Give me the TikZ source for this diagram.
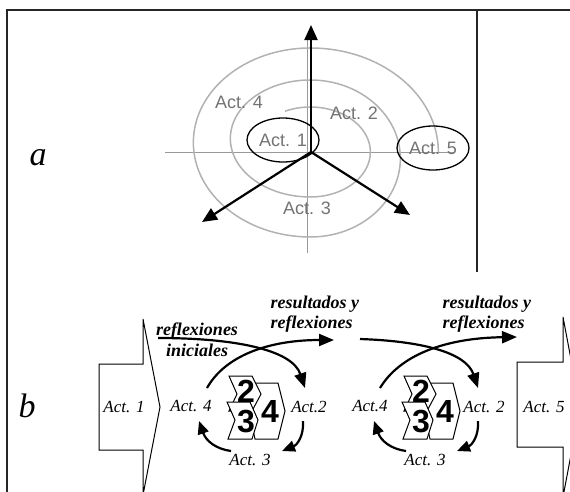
\documentclass[tikz,border=0pt]{standalone}
\usepackage{fontspec}
\setmainfont{Liberation Serif}
\newfontfamily\lsans{Liberation Sans}
\usetikzlibrary{arrows.meta,shapes.geometric}

\begin{document}
\begin{tikzpicture}[x=1pt,y=-1pt,
  frameline/.style={line width=1.6pt, draw=black!85},
  spiralline/.style={draw=black!30, line width=1.5pt},
  axisline/.style={draw=black!40, line width=0.8pt},
  radarrow/.style={line width=2.2pt, -{Triangle[length=15pt,width=13pt]}},
  actgray/.style={font=\lsans\fontsize{18}{18}\selectfont, text=black!55},
  ringnode/.style={ellipse, draw, line width=1.3pt, minimum width=72pt, minimum height=44pt, inner sep=0pt},
  biglabel/.style={font=\itshape\fontsize{34}{34}\selectfont},
  actit/.style={font=\itshape\fontsize{17}{18}\selectfont},
  reflect/.style={font=\bfseries\itshape\fontsize{18}{20}\selectfont},
  blockarrow/.style={draw, line width=1pt, fill=white},
  cycarrow/.style={line width=2.2pt, -{Triangle[length=15pt,width=12pt]}},
  smallarrow/.style={line width=2.2pt, -{Triangle[length=13pt,width=11pt]}},
  chev/.style={draw, line width=1pt, fill=white},
  digit/.style={font=\lsans\bfseries\fontsize{32}{32}\selectfont, inner sep=0pt}
]
\useasboundingbox (0,0) rectangle (570,491);
\clip (0,0) rectangle (570,491);

% frame
\draw[frameline] (570,10) -- (7,10) -- (7,492);
\draw[frameline] (477,10) -- (477,272);

% ---------- part a ----------
\node[biglabel] (la) at (38,158) {a};

\draw[axisline] (165,152) -- (455,152);
\draw[axisline] (307,40) -- (307,253);

\draw[spiralline] (285,111.2)
  arc[start angle=-115, end angle=90, x radius=60, y radius=45]
  arc[start angle=90, end angle=270, x radius=80, y radius=58.5]
  arc[start angle=-90, end angle=90, x radius=90, y radius=78.5]
  arc[start angle=90, end angle=270, x radius=117, y radius=94.5]
  arc[start angle=-90, end angle=0, x radius=128, y radius=104];

\node[actgray] (a4) at (239,102) {Act. 4};
\node[actgray] (a2) at (354,113) {Act. 2};
\node[actgray] (a3) at (307,208) {Act. 3};
\node[ringnode, actgray] (a1) at (283,140) {Act. 1};
\node[ringnode, actgray] (a5) at (433,148) {Act. 5};

\coordinate (ctr) at (311,152);
\coordinate (tipU) at (311,25);
\coordinate (tipL) at (202,222);
\coordinate (tipR) at (410,215);
\draw[radarrow] (ctr) -- (tipU);
\draw[radarrow] (ctr) -- (tipL);
\draw[radarrow] (ctr) -- (tipR);

% ---------- part b ----------
\node[biglabel] (lb) at (27,406) {b};

\draw[blockarrow] (99,364) -- (143,364) -- (143,319) -- (160,407) -- (143,495) -- (143,450) -- (99,450) -- cycle;
\node[actit] (b1) at (124,407) {Act. 1};

\draw[blockarrow] (517,362) -- (563,362) -- (563,317) -- (580,407) -- (563,497) -- (563,447) -- (517,447) -- cycle;
\node[actit] (b5) at (544,407) {Act. 5};

% cycle 1
\node[reflect, anchor=base] (ri1) at (197,335) {reflexiones};
\node[reflect, anchor=base] (ri2) at (197,356) {iniciales};
\node[reflect, align=left, anchor=west] (rr1) at (267,314) {resultados y\\reflexiones};
\node[actit] (c1a4) at (191,406) {Act. 4};
\node[actit] (c1a2) at (309,407) {Act.2};
\node[actit] (c1a3) at (250,460) {Act. 3};

\draw[chev] (255,383) -- (278,383) -- (285,411) -- (278,439) -- (255,439) -- (249,411) -- cycle;
\draw[chev] (229,376) -- (252,376) -- (261,394) -- (252,411) -- (229,411) -- (237,394) -- cycle;
\draw[chev] (227,402) -- (250,402) -- (258,420) -- (252,439) -- (228,439) -- (235,420) -- cycle;
\node[digit] (c1d4) at (270,411) {4};
\node[digit] (c1d2) at (246,391) {2};
\node[digit] (c1d3) at (246,421) {3};

\coordinate (c1s1) at (158,338);
\coordinate (c1e1) at (305,388);
\coordinate (c1s2) at (207,388);
\coordinate (c1e2) at (334,340);
\draw[cycarrow] (c1s1) .. controls (232,338) and (292,349) .. (c1e1);
\draw[cycarrow] (c1s2) .. controls (225,356) and (268,340) .. (c1e2);
\coordinate (c1s3) at (303,421);
\coordinate (c1e3) at (282,451);
\coordinate (c1s4) at (231,451);
\coordinate (c1e4) at (199,421);
\draw[smallarrow] (c1s3) .. controls (304,436) and (297,445) .. (c1e3);
\draw[smallarrow] (c1s4) .. controls (216,449) and (206,441) .. (c1e4);

% cycle 2
\node[reflect, align=left, anchor=west] (rr2) at (439,314) {resultados y\\reflexiones};
\node[actit] (c2a4) at (370,406) {Act.4};
\node[actit] (c2a2) at (484,407) {Act. 2};
\node[actit] (c2a3) at (425,460) {Act. 3};

\begin{scope}[xshift=175pt]
\draw[chev] (255,383) -- (278,383) -- (285,411) -- (278,439) -- (255,439) -- (249,411) -- cycle;
\draw[chev] (229,376) -- (252,376) -- (261,394) -- (252,411) -- (229,411) -- (237,394) -- cycle;
\draw[chev] (227,402) -- (250,402) -- (258,420) -- (252,439) -- (228,439) -- (235,420) -- cycle;
\node[digit] (c2d4) at (270,411) {4};
\node[digit] (c2d2) at (246,391) {2};
\node[digit] (c2d3) at (246,421) {3};
\end{scope}

\coordinate (c2s1) at (360,339);
\coordinate (c2e1) at (478,388);
\coordinate (c2s2) at (380,388);
\coordinate (c2e2) at (517,337);
\draw[cycarrow] (c2s1) .. controls (420,341) and (466,352) .. (c2e1);
\draw[cycarrow] (c2s2) .. controls (400,355) and (445,338) .. (c2e2);
\coordinate (c2s3) at (478,421);
\coordinate (c2e3) at (457,451);
\coordinate (c2s4) at (406,451);
\coordinate (c2e4) at (374,421);
\draw[smallarrow] (c2s3) .. controls (479,436) and (472,445) .. (c2e3);
\draw[smallarrow] (c2s4) .. controls (391,449) and (381,441) .. (c2e4);
\end{tikzpicture}
\end{document}
